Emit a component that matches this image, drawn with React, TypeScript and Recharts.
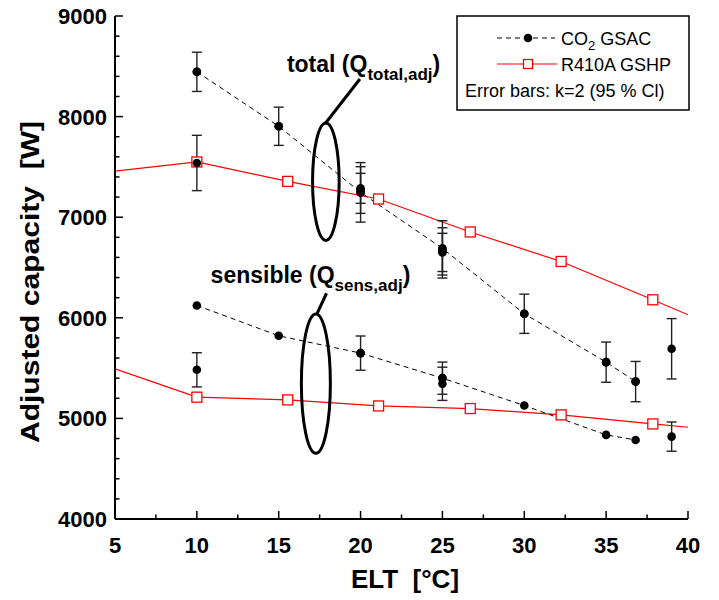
import React from 'react';
import {
  ComposedChart,
  Line,
  Scatter,
  XAxis,
  YAxis,
  ErrorBar,
  ReferenceDot,
  ReferenceLine,
} from 'recharts';

const FONT = '"Liberation Sans", Arial, Helvetica, sans-serif';

// CO2 GSAC points joined by the dashed lines
const co2Elt = [10, 15, 20, 25, 30, 35, 36.8];
const co2Total = [8445, 7904, 7247, 6690, 6040, 5559, 5366];
const co2Sensible = [6123, 5821, 5649, 5400, 5128, 4836, 4786];

// measurements with error bars, k=2
const totalBarElt = [10, 15, 20, 20, 20, 25, 25, 25, 30, 35, 36.8, 10, 39];
const totalBarValue = [8445, 7904, 7247, 7270, 7287, 6680, 6660, 6650, 6040, 5559, 5366, 7539, 5692];
const totalBarErr = [195, 190, 296, 232, 149, 285, 235, 190, 195, 200, 200, 275, 300];

const sensBarElt = [20, 25, 25, 10, 39];
const sensBarValue = [5649, 5400, 5344, 5483, 4819];
const sensBarErr = [170, 160, 165, 170, 145];

// R410A GSHP (the lines run into the frame at 5 and 40 °C)
const r410Elt = [5, 10, 15.55, 21.1, 26.7, 32.25, 37.85, 40];
const r410Total = [7457, 7549, 7356, 7181, 6853, 6560, 6179, 6030];
const r410Sensible = [5493, 5211, 5184, 5124, 5098, 5035, 4945, 4912];

const xMajor = [5, 10, 15, 20, 25, 30, 35, 40];
const yMajor = [4000, 5000, 6000, 7000, 8000, 9000];
const xTicks = Array.from({ length: 15 }, (_, i) => 5 + i * 2.5);
const yTicks = Array.from({ length: 26 }, (_, i) => 4000 + i * 200);

const pts = (xs: number[], ys: number[], errs?: number[]) =>
  xs.map((x, i) => ({ x, y: ys[i], err: errs ? errs[i] : 0 }));

const tickText = {
  fontFamily: FONT,
  fontWeight: 'bold' as const,
  fontSize: 22,
  fill: '#000',
};

function bottomTick(p: any) {
  const major = xMajor.includes(p.payload.value);
  return (
    <g>
      <line x1={p.x} x2={p.x} y1={p.y} y2={p.y - (major ? 8 : 4.5)} stroke="#000" strokeWidth={1.5} />
      {major && (
        <text x={p.x} y={p.y + 34} textAnchor="middle" {...tickText}>
          {p.payload.value}
        </text>
      )}
    </g>
  );
}

function topTick(p: any) {
  const major = xMajor.includes(p.payload.value);
  return <line x1={p.x} x2={p.x} y1={p.y} y2={p.y + (major ? 8 : 4.5)} stroke="#000" strokeWidth={1.5} />;
}

function leftTick(p: any) {
  const major = yMajor.includes(p.payload.value);
  return (
    <g>
      <line x1={p.x} x2={p.x + (major ? 8 : 4.5)} y1={p.y} y2={p.y} stroke="#000" strokeWidth={1.5} />
      {major && (
        <text x={p.x - 8} y={p.y} dy="0.36em" textAnchor="end" {...tickText}>
          {p.payload.value}
        </text>
      )}
    </g>
  );
}

function rightTick(p: any) {
  const major = yMajor.includes(p.payload.value);
  return <line x1={p.x} x2={p.x - (major ? 8 : 4.5)} y1={p.y} y2={p.y} stroke="#000" strokeWidth={1.5} />;
}

const blackDot = (p: any) => <circle key={`d${p.index}-${p.cx}`} cx={p.cx} cy={p.cy} r={4.3} fill="#000" />;

const redSquare = (p: any) => {
  if (p.payload.x <= 5 || p.payload.x >= 40) return <g key={`s${p.index}`} />;
  return (
    <rect
      key={`s${p.index}`}
      x={p.cx - 5}
      y={p.cy - 5}
      width={10}
      height={10}
      fill="#fff"
      stroke="#ff0000"
      strokeWidth={1.3}
    />
  );
};

const annotation = (main: string, sub: string) => (p: any) => (
  <text x={p.cx} y={p.cy} fontFamily={FONT} fontWeight="bold" fontSize={23} fill="#000">
    {main}
    <tspan fontSize={17} dy={8}>{sub}</tspan>
    <tspan dy={-8}>)</tspan>
  </text>
);

const ellipse = (rx: number, ry: number) => (p: any) => (
  <ellipse cx={p.cx} cy={p.cy} rx={rx} ry={ry} fill="none" stroke="#000" strokeWidth={3} />
);

const frame = { stroke: '#000', strokeWidth: 2 };

export default function App() {
  return (
    <div style={{ position: 'absolute', left: 0, top: 0, width: 719, height: 600, background: '#fff' }}>
      <ComposedChart width={719} height={600} margin={{ top: 16, right: 31, bottom: 0, left: 0 }}>
        <XAxis
          type="number"
          dataKey="x"
          domain={[5, 40]}
          allowDataOverflow
          ticks={xTicks}
          interval={0}
          height={81}
          tickSize={0}
          tickMargin={0}
          tickLine={false}
          axisLine={frame}
          tick={bottomTick}
        />
        <XAxis
          xAxisId="top"
          orientation="top"
          type="number"
          dataKey="x"
          domain={[5, 40]}
          allowDataOverflow
          ticks={xTicks}
          interval={0}
          height={0}
          tickSize={0}
          tickMargin={0}
          tickLine={false}
          axisLine={frame}
          tick={topTick}
        />
        <YAxis
          type="number"
          dataKey="y"
          domain={[4000, 9000]}
          allowDataOverflow
          ticks={yTicks}
          interval={0}
          width={115}
          tickSize={0}
          tickMargin={0}
          tickLine={false}
          axisLine={frame}
          tick={leftTick}
        />
        <YAxis
          yAxisId="right"
          orientation="right"
          type="number"
          dataKey="y"
          domain={[4000, 9000]}
          allowDataOverflow
          ticks={yTicks}
          interval={0}
          width={0}
          tickSize={0}
          tickMargin={0}
          tickLine={false}
          axisLine={frame}
          tick={rightTick}
        />

        <Line
          data={pts(r410Elt, r410Total)}
          dataKey="y"
          stroke="#ff0000"
          strokeWidth={1.2}
          dot={redSquare}
          isAnimationActive={false}
        />
        <Line
          data={pts(r410Elt, r410Sensible)}
          dataKey="y"
          stroke="#ff0000"
          strokeWidth={1.2}
          dot={redSquare}
          isAnimationActive={false}
        />
        <Line
          data={pts(co2Elt, co2Total)}
          dataKey="y"
          stroke="#000"
          strokeWidth={1}
          strokeDasharray="5 4"
          dot={blackDot}
          isAnimationActive={false}
        />
        <Line
          data={pts(co2Elt, co2Sensible)}
          dataKey="y"
          stroke="#000"
          strokeWidth={1}
          strokeDasharray="5 4"
          dot={blackDot}
          isAnimationActive={false}
        />
        <Scatter data={pts(totalBarElt, totalBarValue, totalBarErr)} dataKey="y" shape={blackDot} isAnimationActive={false}>
          <ErrorBar dataKey="err" direction="y" width={5} stroke="#222" strokeWidth={1.4} isAnimationActive={false} />
        </Scatter>
        <Scatter data={pts(sensBarElt, sensBarValue, sensBarErr)} dataKey="y" shape={blackDot} isAnimationActive={false}>
          <ErrorBar dataKey="err" direction="y" width={5} stroke="#222" strokeWidth={1.4} isAnimationActive={false} />
        </Scatter>

        <ReferenceDot x={17.88} y={7353} r={0} shape={ellipse(13.3, 58.7)} />
        <ReferenceLine segment={[{ x: 17.82, y: 7926 }, { x: 19.96, y: 8374 }]} stroke="#000" strokeWidth={3} />
        <ReferenceDot x={15.5} y={8446} r={0} shape={annotation('total (Q', 'total,adj')} />

        <ReferenceDot x={17.27} y={5346} r={0} shape={ellipse(14.5, 69.7)} />
        <ReferenceLine segment={[{ x: 17.35, y: 6045 }, { x: 17.92, y: 6244 }]} stroke="#000" strokeWidth={3} />
        <ReferenceDot x={10.84} y={6349} r={0} shape={annotation('sensible (Q', 'sens,adj')} />
      </ComposedChart>

      <svg width={719} height={600} style={{ position: 'absolute', left: 0, top: 0, pointerEvents: 'none' }}>
        <text
          transform="translate(39,282) rotate(-90)"
          textAnchor="middle"
          fontFamily={FONT}
          fontWeight="bold"
          fontSize={26}
          textLength={322}
          lengthAdjust="spacingAndGlyphs"
          style={{ whiteSpace: 'pre' }}
        >
          {'Adjusted capacity  [W]'}
        </text>
        <text x={405} y={588} textAnchor="middle" fontFamily={FONT} fontWeight="bold" fontSize={26} style={{ whiteSpace: 'pre' }}>
          {'ELT  [°C]'}
        </text>

        <rect x={457} y={16} width={232} height={94} fill="#fff" stroke="#000" strokeWidth={1.5} />
        <line x1={497} x2={555} y1={38} y2={38} stroke="#000" strokeWidth={1} strokeDasharray="5 4" />
        <circle cx={528} cy={38} r={4.3} fill="#000" />
        <text x={561} y={44.5} fontFamily={FONT} fontSize={18}>
          CO<tspan fontSize={13} dy={5}>2</tspan>
          <tspan dy={-5}> GSAC</tspan>
        </text>
        <line x1={497} x2={557} y1={64} y2={64} stroke="#ff0000" strokeWidth={1.2} />
        <rect x={523.5} y={59.5} width={9} height={9} fill="#fff" stroke="#ff0000" strokeWidth={1.3} />
        <text x={561} y={70.5} fontFamily={FONT} fontSize={18}>
          R410A GSHP
        </text>
        <text x={465} y={96.5} fontFamily={FONT} fontSize={18}>
          Error bars: k=2 (95 % Cl)
        </text>
      </svg>
    </div>
  );
}
